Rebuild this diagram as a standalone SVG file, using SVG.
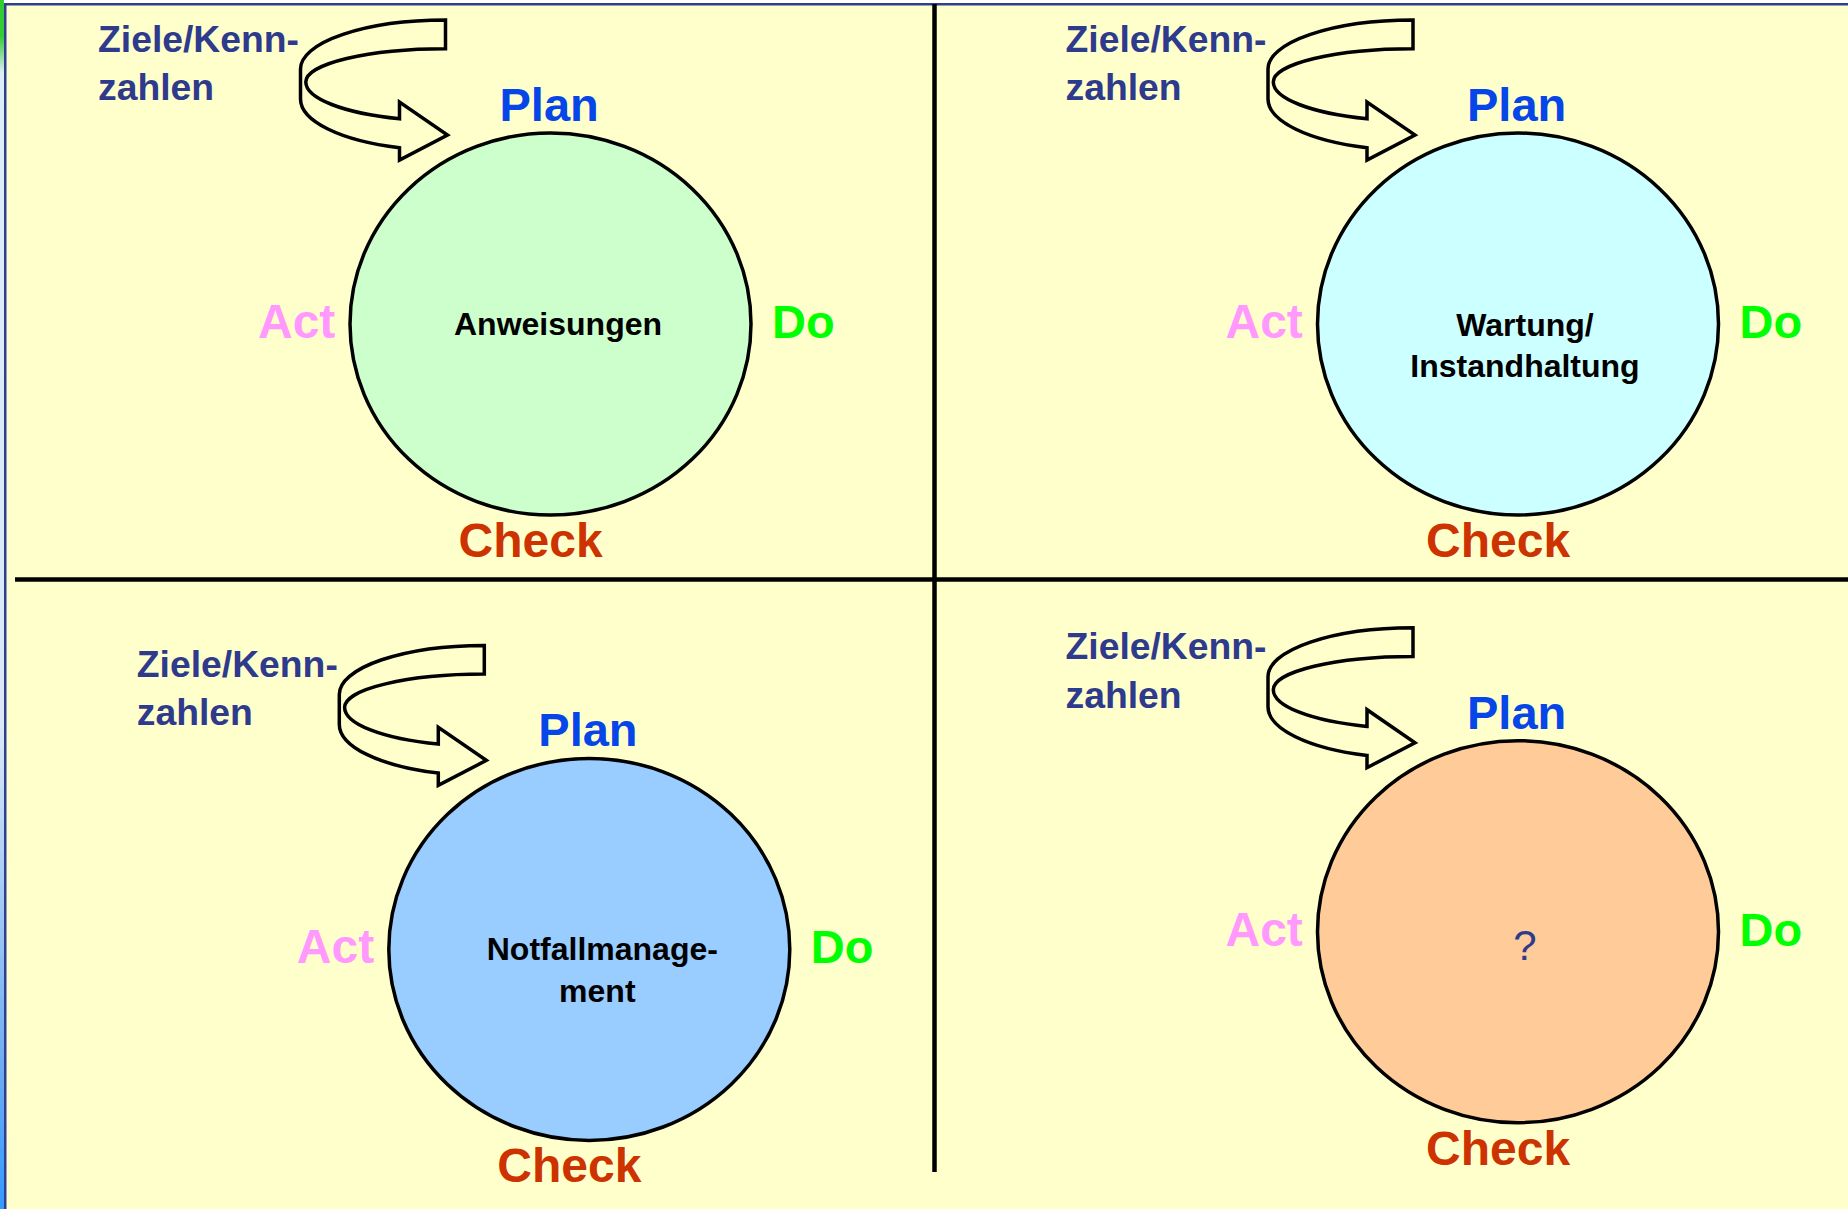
<svg xmlns="http://www.w3.org/2000/svg" xmlns:xlink="http://www.w3.org/1999/xlink" width="1848" height="1209" viewBox="0 0 1848 1209">
  <style>
    text { font-family: "Liberation Sans", Arial, sans-serif; font-weight: bold; }
    .plan { fill: #0645E8; font-size: 47px; }
    .act { fill: #FF99FF; font-size: 48px; }
    .do { fill: #00FF00; font-size: 47px; }
    .check { fill: #CC3300; font-size: 48px; }
    .goal { fill: #2E3A8C; font-size: 37.3px; }
    .core { fill: #000000; font-size: 32px; text-anchor: middle; }
    .ask { fill: #2E3A8C; font-size: 42px; font-weight: normal; text-anchor: middle; }
    .ring { stroke: #000000; stroke-width: 3.5; }
    .turn { fill: #FFFFCC; stroke: #000000; stroke-width: 3.5; stroke-linejoin: miter; }
    .rule { stroke: #000000; stroke-width: 4.5; }
  </style>
  <defs>
    <!-- left window edge: green at the top, blue at the bottom -->
    <linearGradient id="edge" x1="0" y1="0" x2="0" y2="1">
      <stop offset="0" stop-color="#33CC33"/>
      <stop offset="0.03" stop-color="#33CC33"/>
      <stop offset="0.06" stop-color="#DDEEF6"/>
      <stop offset="0.6" stop-color="#DCE8F8"/>
      <stop offset="0.9" stop-color="#66AAF0"/>
      <stop offset="1" stop-color="#3399FF"/>
    </linearGradient>
    <!-- twisted ribbon arrow feeding into the cycle, relative to circle centre -->
    <path id="turn" d="M -105,-304 A 145,49 0 0 0 -250,-255 L -250,-225 A 145,51.4 0 0 0 -151,-176.3 L -151,-164 L -103,-189 L -151,-222 L -151,-205.3 A 140,39 0 0 1 -244.7,-242 A 140,33.3 0 0 1 -105,-275.3 Z"/>
  </defs>

  <!-- page frame -->
  <rect x="0" y="0" width="1848" height="1209" fill="#FFFFFF"/>
  <rect x="0" y="0" width="4" height="1209" fill="url(#edge)"/>
  <rect x="6.5" y="5.5" width="1841.5" height="1203.5" fill="#FFFFCC"/>
  <rect x="4" y="3" width="1844" height="2.5" fill="#2E3F8E"/>
  <rect x="4" y="3" width="2.5" height="1206" fill="#2E3F8E"/>

  <!-- quadrant dividers -->
  <g id="grid">
    <line class="rule" x1="934.5" y1="4" x2="934.5" y2="1172" stroke-width="5"/>
    <line class="rule" x1="15" y1="579.5" x2="1848" y2="579.5"/>
  </g>

  <!-- input arrows -->
  <g id="connectors">
    <use xlink:href="#turn" class="turn" transform="translate(550.5,324)"/>
    <use xlink:href="#turn" class="turn" transform="translate(1518,324)"/>
    <use xlink:href="#turn" class="turn" transform="translate(589.3,949.4)"/>
    <use xlink:href="#turn" class="turn" transform="translate(1518,931.7)"/>
  </g>

  <g id="cycle-anweisungen" transform="translate(550.5,324)">
    <ellipse class="ring" cx="0" cy="0" rx="200.5" ry="191" fill="#CCFFCC"/>
    <text class="goal" x="-452.5" y="-272.3">Ziele/Kenn-</text>
    <text class="goal" x="-452.5" y="-224">zahlen</text>
    <text class="plan" x="-51" y="-203">Plan</text>
    <text class="act" x="-292.5" y="14">Act</text>
    <text class="do" x="221.5" y="14">Do</text>
    <text class="check" x="-92" y="233">Check</text>
    <text class="core" x="7.5" y="11">Anweisungen</text>
  </g>

  <g id="cycle-wartung" transform="translate(1518,324)">
    <ellipse class="ring" cx="0" cy="0" rx="200.5" ry="191" fill="#CCFFFF"/>
    <text class="goal" x="-452.5" y="-272.3">Ziele/Kenn-</text>
    <text class="goal" x="-452.5" y="-224">zahlen</text>
    <text class="plan" x="-51" y="-203">Plan</text>
    <text class="act" x="-292.5" y="14">Act</text>
    <text class="do" x="221.5" y="14">Do</text>
    <text class="check" x="-92" y="233">Check</text>
    <text class="core" x="7" y="12">Wartung/</text>
    <text class="core" x="7" y="53">Instandhaltung</text>
  </g>

  <g id="cycle-notfall" transform="translate(589.3,949.4)">
    <ellipse class="ring" cx="0" cy="0" rx="200.5" ry="191" fill="#99CCFF"/>
    <text class="goal" x="-452.5" y="-272.3">Ziele/Kenn-</text>
    <text class="goal" x="-452.5" y="-224">zahlen</text>
    <text class="plan" x="-51" y="-203">Plan</text>
    <text class="act" x="-292.5" y="14">Act</text>
    <text class="do" x="221.5" y="14">Do</text>
    <text class="check" x="-92" y="233">Check</text>
    <text class="core" x="13" y="10.6">Notfallmanage-</text>
    <text class="core" x="8" y="52.6">ment</text>
  </g>

  <g id="cycle-offen" transform="translate(1518,931.7)">
    <ellipse class="ring" cx="0" cy="0" rx="200.5" ry="191" fill="#FFCC99"/>
    <text class="goal" x="-452.5" y="-272.3">Ziele/Kenn-</text>
    <text class="goal" x="-452.5" y="-224">zahlen</text>
    <text class="plan" x="-51" y="-203">Plan</text>
    <text class="act" x="-292.5" y="14">Act</text>
    <text class="do" x="221.5" y="14">Do</text>
    <text class="check" x="-92" y="233">Check</text>
    <text class="ask" x="7" y="28">?</text>
  </g>
</svg>
